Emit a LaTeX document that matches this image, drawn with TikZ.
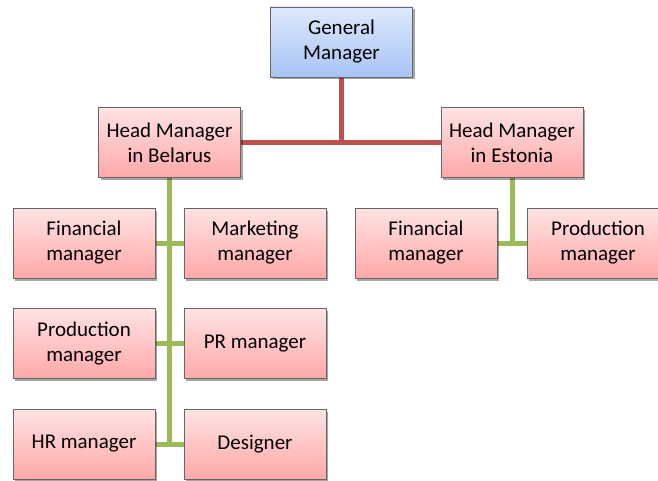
\documentclass[tikz,border=0pt]{standalone}
\usepackage{fontspec}
\setmainfont{Carlito}
\usetikzlibrary{shadows,backgrounds}
\definecolor{bluetop}{HTML}{DDE9FC}
\definecolor{bluebot}{HTML}{A8C3F4}
\definecolor{pinktop}{HTML}{FFE3E3}
\definecolor{pinkbot}{HTML}{FFA8A8}
\definecolor{boxline}{HTML}{666666}
\definecolor{redline}{HTML}{C0504D}
\definecolor{greenline}{HTML}{9BBB59}
\tikzset{
  x=1pt, y=-1pt,
  orgbox/.style={draw=boxline, line width=0.8pt, minimum width=142pt, minimum height=70pt,
    inner sep=2pt, align=center, font=\fontsize{21}{25}\selectfont,
    top color=pinktop, bottom color=pinkbot,
    drop shadow={shadow xshift=2pt, shadow yshift=-2.5pt, opacity=0.35, fill=black}},
  gmbox/.style={orgbox, top color=bluetop, bottom color=bluebot},
  redconn/.style={draw=redline, line width=5pt},
  greenconn/.style={draw=greenline, line width=5pt},
}
\begin{document}
\begin{tikzpicture}
\useasboundingbox (0,0) rectangle (658,481);
\begin{scope}
\clip (0,0) rectangle (658,481);
\node[gmbox] (gm) at (341.5,42) {General\\Manager};
\node[orgbox] (hb) at (169.5,142.5) {Head Manager\\in Belarus};
\node[orgbox] (he) at (512,142.5) {Head Manager\\in Estonia};
\node[orgbox] (lf) at (84,243) {Financial\\manager};
\node[orgbox] (mk) at (255,243) {Marketing\\manager};
\node[orgbox] (lp) at (84,343.5) {Production\\manager};
\node[orgbox] (pr) at (255,343.5) {PR manager};
\node[orgbox] (hr) at (84,444) {HR manager};
\node[orgbox] (ds) at (255,444) {Designer};
\node[orgbox] (ef) at (426,243) {Financial\\manager};
\node[orgbox] (ep) at (598,243) {Production\\manager};
\begin{pgfonlayer}{background}
\draw[redconn] (gm.south) -- (gm.south |- hb.east);
\draw[redconn] (hb.east) -- (he.west);
\draw[greenconn] (hb.south) -- (hb.south |- hr.east);
\draw[greenconn] (lf.east) -- (mk.west);
\draw[greenconn] (lp.east) -- (pr.west);
\draw[greenconn] (hr.east) -- (ds.west);
\draw[greenconn] (he.south) -- (he.south |- ef.east);
\draw[greenconn] (ef.east) -- (ep.west);
\end{pgfonlayer}
\end{scope}
\end{tikzpicture}
\end{document}
